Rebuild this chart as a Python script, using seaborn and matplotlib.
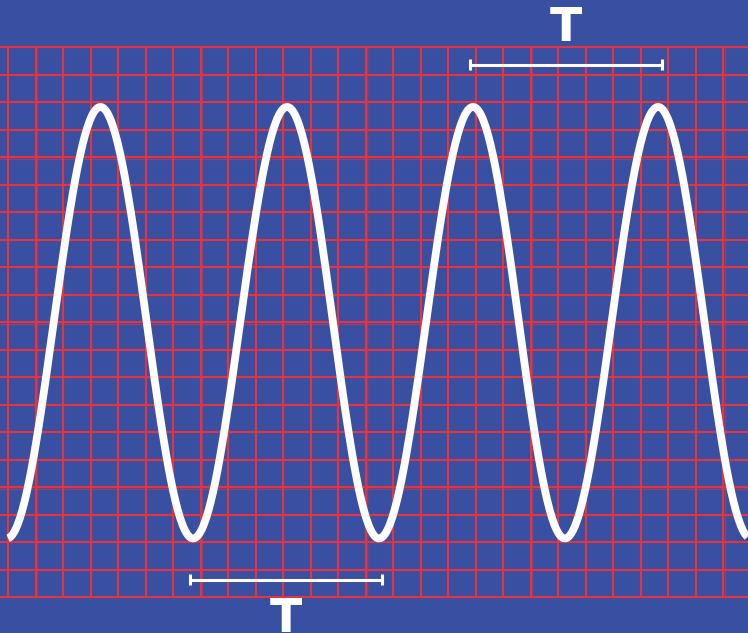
import matplotlib
matplotlib.use("Agg")
import matplotlib.pyplot as plt
import numpy as np
import pandas as pd
import seaborn as sns

# Wave extrema, in grid cells (x: columns from the first
# grid line, y: rows from the top grid line)
extrema_x = [-0.04, 3.36, 6.73, 10.15, 13.49, 16.91, 20.25, 23.64, 27.02]
extrema_y = [17.87, 2.18, 17.87, 2.18, 17.87, 2.18, 17.87, 2.18, 17.87]
wave_start, wave_end = 0.0, 26.91

# Period markers: (start, end, row) and the label next to each
bar_start = [16.80, 6.62]
bar_end = [23.78, 13.60]
bar_row = [0.65, 19.38]
label_x = [20.29, 10.10]
label_row = [-0.22, 21.26]
label_text = ["T", "T"]

n_cols = 27
n_rows = 21

blue = "#3950a2"
red = "#e6343f"

# Build the curve as half-cosine arcs between the extrema
xs, ys = [], []
for i in range(len(extrema_x) - 1):
    x0, x1 = extrema_x[i], extrema_x[i + 1]
    y0, y1 = extrema_y[i], extrema_y[i + 1]
    t = np.linspace(0, 1, 80)
    xs.append(x0 + (x1 - x0) * t)
    ys.append((y0 + y1) / 2 + (y0 - y1) / 2 * np.cos(np.pi * t))
df = pd.DataFrame({"x": np.concatenate(xs), "y": np.concatenate(ys)})
df = df[(df.x >= wave_start) & (df.x <= wave_end)].drop_duplicates("x")

sns.set_style("white")
fig = plt.figure(figsize=(7.48, 6.33), dpi=100)
fig.patch.set_facecolor(blue)
ax = fig.add_axes([0, 0, 1, 1])
ax.set_facecolor(blue)

# Grid
for r in range(n_rows):
    ax.axhline(r, color=red, lw=1.5, zorder=1)
ax.vlines(range(n_cols), 0, n_rows - 1, color=red, lw=1.5, zorder=1)
# faint doubled lines of the paper
ax.vlines([1.07, 7.07, 13.07, 19.07, 26.07], 0, n_rows - 1, color=red, lw=1.0, alpha=0.5, zorder=1)
for r in [4.07, 10.07, 16.07]:
    ax.axhline(r, color=red, lw=1.0, alpha=0.5, zorder=1)

sns.lineplot(data=df, x="x", y="y", ax=ax, color="white", lw=5.6, sort=False,
             solid_capstyle="butt", zorder=3)

for x0, x1, r in zip(bar_start, bar_end, bar_row):
    ax.hlines(r, x0, x1, color="white", lw=2.2, zorder=4)
    ax.vlines([x0, x1], r - 0.2, r + 0.2, color="white", lw=2.2, zorder=4)

for x, r, s in zip(label_x, label_row, label_text):
    ax.text(x, r, s, ha="center", va="baseline", fontsize=34,
            fontweight="bold", color="white", zorder=4)

ax.set_xlim(-8 / 27.5, 740 / 27.5)
ax.set_ylim(586 / 27.5, -47 / 27.5)
ax.set_xlabel("")
ax.set_ylabel("")
ax.set_xticks([])
ax.set_yticks([])
for s in ax.spines.values():
    s.set_visible(False)

fig.savefig("out.png", dpi=100, facecolor=blue)
